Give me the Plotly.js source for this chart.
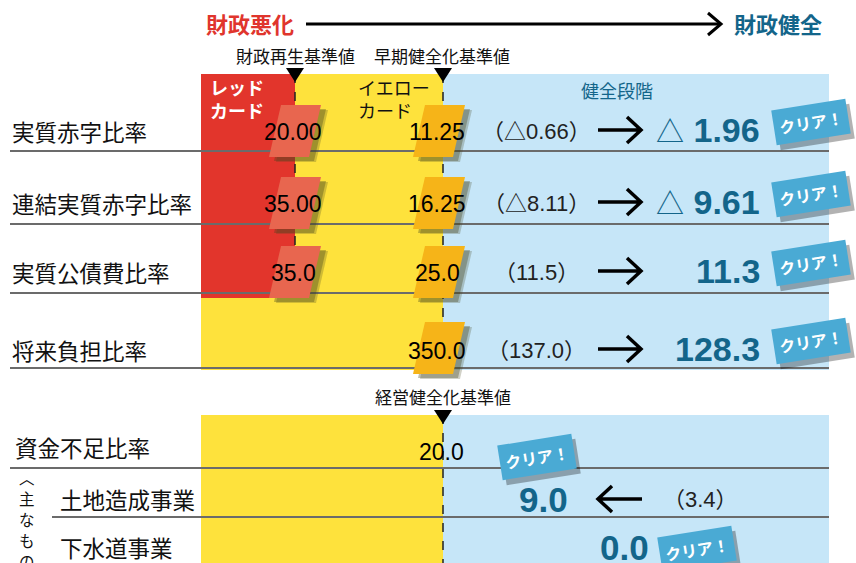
<!DOCTYPE html>
<html><head><meta charset="utf-8">
<script src="https://cdn.plot.ly/plotly-3.0.1.min.js"></script>
<style>html,body{margin:0;padding:0;background:#fff}#chart{width:856px;height:563px}</style>
</head><body><div id="chart"></div>
<script>
// ---- data ----
const indicators = ['実質赤字比率', '連結実質赤字比率', '実質公債費比率', '将来負担比率'];
const restorationLimit = ['20.00', '35.00', '35.0', ''];
const earlyLimit = ['11.25', '16.25', '25.0', '350.0'];
const previousValues = ['（△0.66）', '（△8.11）', '（11.5）', '（137.0）'];
const currentValues = ['△1.96', '△9.61', '11.3', '128.3'];
const indicatorCleared = [true, true, true, true];

const businessRows = ['資金不足比率', '土地造成事業', '下水道事業'];
const managementLimit = ['20.0', '', ''];
const businessCurrent = ['', '9.0', '0.0'];
const businessPrevious = ['', '（3.4）', ''];
const businessCleared = [false, true, true];

const headerLeft = '財政悪化', headerRight = '財政健全';
const limitLabels = ['財政再生基準値', '早期健全化基準値', '経営健全化基準値'];
const zoneLabels = ['レッド<br>カード', 'イエロー<br>カード', '健全段階'];
const clearText = 'クリア！';
const subGroupChars = ['︿', '主', 'な', 'も', 'の', '﹀'];

// ---- layout geometry ----
const W = 856, H = 563;
const FONT = 'Liberation Sans, Noto Sans CJK JP, sans-serif';
const JP = 'Noto Sans CJK JP, sans-serif';
const xL = 201, xRed = 295, xYel = 443, xR = 829;
const topY0 = 74, redY1 = 298, topY1 = 370;
const botY0 = 415;
const rowY = [131, 203, 272, 350];
const rowLineY = [151, 224, 293, 368];
const bizY = [447, 499, 547];
const bizLineY = [468, 517];
const C = {red:'#e2352c', redTag:'#e8664f', yellow:'#fee23c', orange:'#f6b418', blue:'#c6e6f8',
           teal:'#13658a', badge:'#4aaad4', line:'#6b6b6b'};

const shapes = [];
const ann = [];
function rect(x0, y0, x1, y1, fill) {
  shapes.push({type:'rect', xref:'x', yref:'y', x0, y0, x1, y1, fillcolor:fill, line:{width:0}, layer:'above'});
}
function line(x0, y0, x1, y1, color, width, dash) {
  shapes.push({type:'line', xref:'x', yref:'y', x0, y0, x1, y1, line:{color, width, dash:dash||'solid'}, layer:'above'});
}
function path(d, fill, lineColor, lw) {
  shapes.push({type:'path', xref:'x', yref:'y', path:d, fillcolor:fill||'rgba(0,0,0,0)',
               line:{color:lineColor||'rgba(0,0,0,0)', width:lw||0}, layer:'above'});
}
function txt(x, y, text, size, color, opts) {
  ann.push(Object.assign({x, y, xref:'x', yref:'y', text, showarrow:false, xanchor:'center', yanchor:'middle',
    font:{family:FONT, size, color}}, opts||{}));
}
function jp(x, y, text, size, color, opts) {
  txt(x, y, text, size, color, Object.assign({font:{family:JP, size, color}}, opts||{}));
}
function tag(cx, cy, fill) {
  const p = (dx, dy) => `M${cx-14+dx},${cy-26+dy} L${cx+26+dx},${cy-26+dy} L${cx+14+dx},${cy+26+dy} L${cx-26+dx},${cy+26+dy} Z`;
  path(p(7, 5), 'rgba(70,70,30,0.25)');
  path(p(5, 4), 'rgba(70,70,30,0.35)');
  path(p(0, 0), fill);
}
function triangle(cx, yTop) {
  path(`M${cx-9},${yTop} L${cx+9},${yTop} L${cx},${yTop+14} Z`, '#000');
}
function arrow(x0, x1, y, dir) {
  const tip = dir > 0 ? x1 : x0;
  const back = tip - dir * 14;
  path(`M${x0},${y} L${x1},${y} M${back},${y-13} L${tip},${y} L${back},${y+13}`, null, '#000', 3.5);
}
function badge(x, y) {
  jp(x + 4, y + 5, '<b>' + clearText + '</b>', 16, 'rgba(0,0,0,0)', {textangle:-9, bgcolor:'rgba(0,0,0,0.3)', borderpad:5});
  jp(x, y, '<b>' + clearText + '</b>', 16, '#fff', {textangle:-9, bgcolor:C.badge, borderpad:5});
}
function currentLabel(v) {
  if (v.startsWith('△')) return '<span style="font-size:28px">△</span> <b>' + v.slice(1) + '</b>';
  return '<b>' + v + '</b>';
}

// ---- header ----
jp(250, 23, '<b>' + headerLeft + '</b>', 22, '#e0352d');
line(306, 24, 720, 24, '#000', 3);
path('M708,13 L721,24 L708,35', null, '#000', 3);
jp(778, 23, '<b>' + headerRight + '</b>', 22, C.teal);

// ---- top zones ----
rect(xL, topY0, xYel, topY1, C.yellow);
rect(xL, topY0, xRed, redY1, C.red);
rect(xYel, topY0, xR, topY1, C.blue);
// bottom zones
rect(xL, botY0, xYel, H + 2, C.yellow);
rect(xYel, botY0, xR, H + 2, C.blue);

// row lines
rowLineY.forEach(y => line(10, y, xR, y, C.line, 2));
line(10, bizLineY[0], xR, bizLineY[0], C.line, 2);
line(52, bizLineY[1], xR, bizLineY[1], C.line, 2);

// dashed limit lines
line(xRed, topY0, xRed, redY1, '#222', 1.5, 'dash');
line(xYel, topY0, xYel, topY1, '#222', 1.5, 'dash');
line(xYel, botY0, xYel, H + 2, '#222', 1.5, 'dash');

// tags
indicators.forEach((_, i) => {
  if (restorationLimit[i]) tag(xRed, rowY[i], C.redTag);
  if (earlyLimit[i]) tag(xYel - 4, rowY[i] - (i === 3 ? 2 : 0), C.orange);
});

// triangles
triangle(xRed, 68);
triangle(xYel, 68);
triangle(xYel, 410);

// limit labels
jp(xRed, 55, limitLabels[0], 17, '#111');
jp(xYel - 1, 55, limitLabels[1], 17, '#111');
jp(xYel, 396, limitLabels[2], 17, '#111');

// zone labels
jp(208, 98, '<b>' + zoneLabels[0] + '</b>', 18, '#fff', {xanchor:'left', align:'left'});
jp(356, 98, zoneLabels[1], 18, '#111', {xanchor:'left', align:'left'});
jp(617, 90, zoneLabels[2], 18, C.teal);

// indicator rows
indicators.forEach((name, i) => {
  const y = rowY[i];
  jp(10, y, name, 22.5, '#111', {xanchor:'left'});
  if (restorationLimit[i]) txt(293, y + 1, restorationLimit[i], 23, '#000');
  if (earlyLimit[i]) txt(437, y + 1, earlyLimit[i], 23, '#000');
  txt(536, y, previousValues[i], 22, '#222');
  arrow(598, 641, y - 1, 1);
  txt(762, y - 1, currentLabel(currentValues[i]), 34, C.teal, {xanchor:'right'});
  if (indicatorCleared[i]) badge(811, y - 9);
});

// business rows
businessRows.forEach((name, i) => {
  const y = bizY[i];
  jp(i === 0 ? 13 : 58, y, name, 22.5, '#111', {xanchor:'left'});
  if (managementLimit[i]) txt(441, y + 5, managementLimit[i], 23, '#000');
});
txt(543, bizY[1], '<b>' + businessCurrent[1] + '</b>', 35, C.teal);
arrow(598, 642, bizY[1], -1);
txt(700, bizY[1], businessPrevious[1], 22, '#222');
txt(624, bizY[2], '<b>' + businessCurrent[2] + '</b>', 35, C.teal);
if (businessCleared[1]) badge(537, 457);
if (businessCleared[2]) badge(697, 549);

// vertical group label
subGroupChars.forEach((ch, k) => jp(27, 477 + k * 21, ch, 15.5, '#111', {borderpad:0}));

const layout = {
  width: W, height: H,
  margin: {l:0, r:0, t:0, b:0},
  paper_bgcolor: '#fff', plot_bgcolor: '#fff',
  showlegend: false,
  xaxis: {range:[0, W], visible:false, fixedrange:true},
  yaxis: {range:[H, 0], visible:false, fixedrange:true},
  shapes, annotations: ann
};
Plotly.newPlot('chart', [{type:'scatter', x:[], y:[], hoverinfo:'skip'}], layout, {displayModeBar:false, staticPlot:true});
</script></body></html>
